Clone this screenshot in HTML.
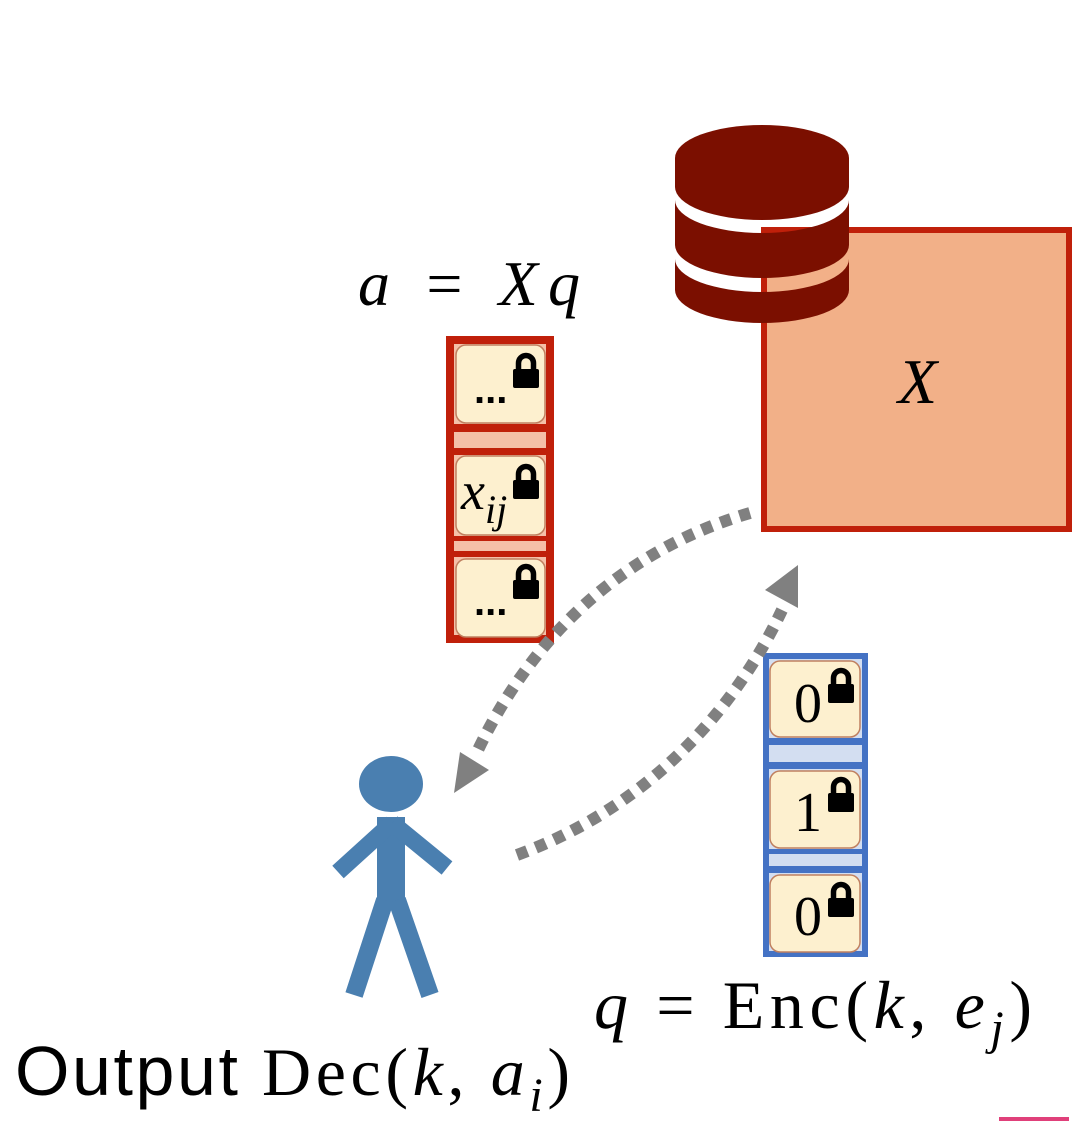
<!DOCTYPE html>
<html><head><style>
html,body{margin:0;padding:0;background:#fff;}
svg{display:block;}
</style></head><body>
<svg width="1080" height="1121" viewBox="0 0 1080 1121" xmlns="http://www.w3.org/2000/svg">
<defs>
<g id="lock"><rect x="-13" y="-4" width="26" height="19" rx="2" fill="#000"/><path d="M-7.5,-4 V-10 A7.5,7.5 0 0 1 7.5,-10 V-4" fill="none" stroke="#000" stroke-width="5.5"/></g>
</defs>
<rect x="764" y="230" width="305" height="299" fill="#f2b088" stroke="#c0200a" stroke-width="6"/>
<text x="898" y="403" font-family="Liberation Serif, serif" font-style="italic" font-size="64" fill="#000">X</text>
<g fill="#7b0f00">
<path d="M675,158 A87,33 0 0 1 849,158 L849,187 A87,33 0 0 1 675,187 Z"/>
<path d="M675,200 A87,33 0 0 0 849,200 L849,245 A87,33 0 0 1 675,245 Z"/>
<path d="M675,259 A87,33 0 0 0 849,259 L849,290 A87,33 0 0 1 675,290 Z"/>
</g>
<text x="358" y="305" font-family="Liberation Serif, serif" font-size="64" fill="#000" textLength="222"><tspan font-style="italic">a</tspan> = <tspan font-style="italic">Xq</tspan></text>
<rect x="450" y="340" width="100" height="299" fill="#f5c0a8" stroke="#c0200a" stroke-width="8"/>
<rect x="450" y="424" width="100" height="8" fill="#c0200a"/>
<rect x="450" y="448" width="100" height="7" fill="#c0200a"/>
<rect x="450" y="536" width="100" height="5" fill="#c0200a"/>
<rect x="450" y="551" width="100" height="6" fill="#c0200a"/>
<rect x="456" y="345" width="89" height="78" rx="10" fill="#fdf0cf" stroke="#c08060" stroke-width="1.5"/>
<rect x="456" y="456" width="89" height="79" rx="10" fill="#fdf0cf" stroke="#c08060" stroke-width="1.5"/>
<rect x="456" y="559" width="89" height="78" rx="10" fill="#fdf0cf" stroke="#c08060" stroke-width="1.5"/>
<text x="474" y="403" font-family="Liberation Sans, sans-serif" font-weight="bold" font-size="40">...</text>
<text x="474" y="615" font-family="Liberation Sans, sans-serif" font-weight="bold" font-size="40">...</text>
<text x="461" y="509" font-family="Liberation Serif, serif" font-style="italic" font-size="54">x<tspan font-size="40" dy="14">ij</tspan></text>
<use href="#lock" x="526" y="373"/>
<use href="#lock" x="526" y="484"/>
<use href="#lock" x="526" y="584"/>
<rect x="766" y="656" width="99" height="298" fill="#d3def1" stroke="#4472c4" stroke-width="6"/>
<rect x="766" y="738" width="99" height="7" fill="#4472c4"/>
<rect x="766" y="762" width="99" height="7" fill="#4472c4"/>
<rect x="766" y="849" width="99" height="5" fill="#4472c4"/>
<rect x="766" y="866" width="99" height="7" fill="#4472c4"/>
<rect x="770" y="661" width="90" height="76" rx="10" fill="#fdf0cf" stroke="#c08060" stroke-width="1.5"/>
<rect x="770" y="771" width="90" height="77" rx="10" fill="#fdf0cf" stroke="#c08060" stroke-width="1.5"/>
<rect x="770" y="875" width="90" height="77" rx="10" fill="#fdf0cf" stroke="#c08060" stroke-width="1.5"/>
<text x="794" y="722" font-family="Liberation Serif, serif" font-size="56">0</text>
<text x="794" y="831" font-family="Liberation Serif, serif" font-size="56">1</text>
<text x="794" y="935" font-family="Liberation Serif, serif" font-size="56">0</text>
<use href="#lock" x="841" y="688"/>
<use href="#lock" x="841" y="797"/>
<use href="#lock" x="841" y="902"/>
<g fill="none" stroke="#808080" stroke-width="12" stroke-dasharray="11 9">
<path d="M750,513 C640,545 540,620 478,750"/>
<path d="M517,855 C640,810 730,720 782,610"/>
</g>
<polygon points="454,793 489,770 460,752" fill="#808080"/>
<polygon points="798,565 798,608 765,590" fill="#808080"/>
<g fill="#4a7fb0" stroke="#4a7fb0">
<ellipse cx="391" cy="784" rx="32" ry="28" stroke="none"/>
<rect x="377" y="817" width="28" height="88" stroke="none"/>
<path d="M392,823 L338,872 M392,823 L447,868" stroke-width="17" fill="none"/>
<path d="M385,900 L354,995 M397,900 L430,995" stroke-width="18" fill="none"/>
</g>
<text x="594" y="1028" font-family="Liberation Serif, serif" font-size="68" fill="#000" textLength="438"><tspan font-style="italic">q</tspan> = Enc(<tspan font-style="italic">k</tspan>, <tspan font-style="italic">e</tspan><tspan font-style="italic" font-size="48" dy="16">j</tspan><tspan dy="-16">)</tspan></text>
<text x="15" y="1095" font-family="Liberation Sans, sans-serif" font-size="70" fill="#000" textLength="223">Output</text>
<text x="262" y="1095" font-family="Liberation Serif, serif" font-size="68" fill="#000" textLength="308">Dec(<tspan font-style="italic">k</tspan>, <tspan font-style="italic">a</tspan><tspan font-style="italic" font-size="48" dy="16">i</tspan><tspan dy="-16">)</tspan></text>
<rect x="999" y="1117" width="70" height="4" fill="#e0407a"/>
</svg>
</body></html>
